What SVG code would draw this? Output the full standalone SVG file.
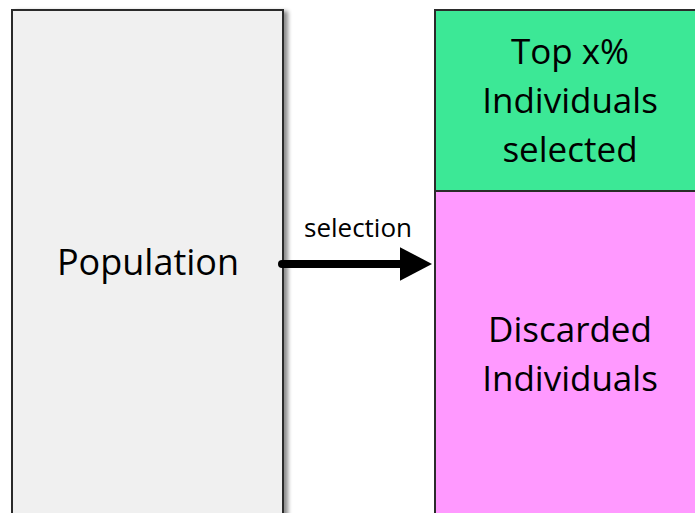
<svg xmlns="http://www.w3.org/2000/svg" width="695" height="513" viewBox="0 0 695 513">
  <defs>
    <filter id="shadow" x="-10%" y="-10%" width="130%" height="130%">
      <feGaussianBlur in="SourceAlpha" stdDeviation="2"/>
      <feOffset dx="4" dy="2" result="b"/>
      <feComponentTransfer><feFuncA type="linear" slope="0.45"/></feComponentTransfer>
      <feMerge><feMergeNode/><feMergeNode in="SourceGraphic"/></feMerge>
    </filter>
    <marker id="head" markerWidth="4" markerHeight="4.2" refX="0" refY="2.1" orient="auto" markerUnits="strokeWidth">
      <path d="M0,0 L4,2.1 L0,4.2 Z" fill="#000"/>
    </marker>
  </defs>
  <style>
    .box { stroke: #2b2b2b; stroke-width: 2; }
    .lbl { font-family: "Open Sans", "Noto Sans", sans-serif; fill: #000; text-anchor: middle; }
    .big { font-size: 35px; }
    .pop { font-size: 36px; }
    .small { font-size: 26px; }
  </style>
  <rect width="695" height="513" fill="#fff"/>

  <g id="population">
    <rect class="box" x="12" y="10" width="271" height="520" fill="#f0f0f0" filter="url(#shadow)"/>
    <text class="lbl pop" x="148" y="275">Population</text>
  </g>

  <g id="selected">
    <rect class="box" x="435" y="10" width="280" height="181" fill="#3ce896"/>
    <text class="lbl big" x="570" y="64">Top x%</text>
    <text class="lbl big" x="570" y="113">Individuals</text>
    <text class="lbl big" x="570" y="162">selected</text>
  </g>

  <g id="discarded">
    <rect class="box" x="435" y="191" width="280" height="340" fill="#ff99ff"/>
    <text class="lbl big" x="570" y="342">Discarded</text>
    <text class="lbl big" x="570" y="391">Individuals</text>
  </g>

  <g id="connectors">
    <line x1="282" y1="264" x2="400" y2="264" stroke="#000" stroke-width="8" stroke-linecap="round" marker-end="url(#head)"/>
    <text class="lbl small" x="358" y="237">selection</text>
  </g>
</svg>
